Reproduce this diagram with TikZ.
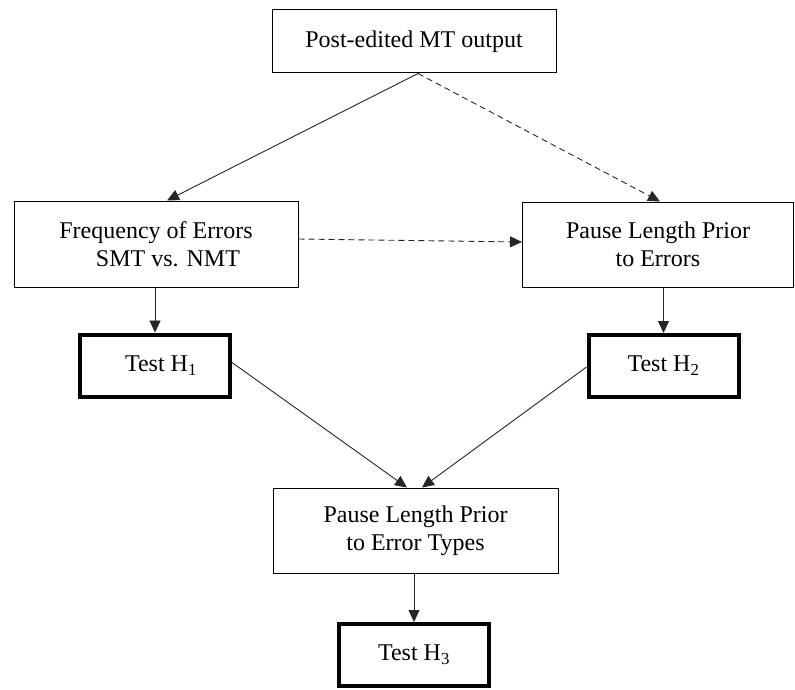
\documentclass[tikz,border=0pt]{standalone}
\usepackage{fontspec}
\setmainfont{Liberation Serif}
\usetikzlibrary{arrows.meta,calc}

\begin{document}
\begin{tikzpicture}[x=1pt,y=-1pt,
  every node/.style={font=\fontsize{24}{28}\selectfont, align=center, inner sep=0pt},
  box/.style={draw=black, line width=1pt, fill=white},
  testbox/.style={draw=black, line width=4pt, fill=white, minimum width=150pt, minimum height=62pt},
  link/.style={draw=black!85, line width=0.9pt, -{Triangle[length=12pt,width=11pt]}},
  dlink/.style={link, dash pattern=on 6pt off 4pt}
]
\useasboundingbox (0,0) rectangle (795,690);

% boxes
\node[box, minimum width=284pt, minimum height=63pt] (top) at (414,41.5) {Post-edited MT output};
\node[box, minimum width=284pt, minimum height=86pt] (freq) at (156,244)
  {Frequency of Errors\\\hspace*{24pt}SMT vs. NMT};
\node[box, minimum width=271pt, minimum height=85pt] (pause) at (658,244.5)
  {Pause Length Prior\\to Errors};
\node[testbox] (h1) at (155,365.5) {\hspace*{12pt}Test H\textsubscript{1}};
\node[testbox] (h2) at (663.5,366) {Test H\textsubscript{2}};
\node[box, minimum width=285pt, minimum height=85pt] (types) at (415.5,530.5)
  {Pause Length Prior\\to Error Types};
\node[testbox] (h3) at (414,655) {Test H\textsubscript{3}};

% connectors
\draw[link] ([xshift=4pt]top.south) -- ([xshift=11pt]freq.north);
\draw[dlink] ([xshift=4pt]top.south) -- ([xshift=2pt]pause.north);
\draw[dlink] ([yshift=5pt]freq.east) -- ([yshift=2.5pt]pause.west);
\draw[link] (h1.north |- freq.south) -- (h1.north);
\draw[link] (h2.north |- pause.south) -- (h2.north);
\draw[link] ([yshift=3pt]h1.east) -- ([xshift=-8.5pt]types.north);
\draw[link] ([yshift=-1pt]h2.west) -- ([xshift=6.5pt]types.north);
\draw[link] (h3.north |- types.south) -- (h3.north);
\end{tikzpicture}
\end{document}
